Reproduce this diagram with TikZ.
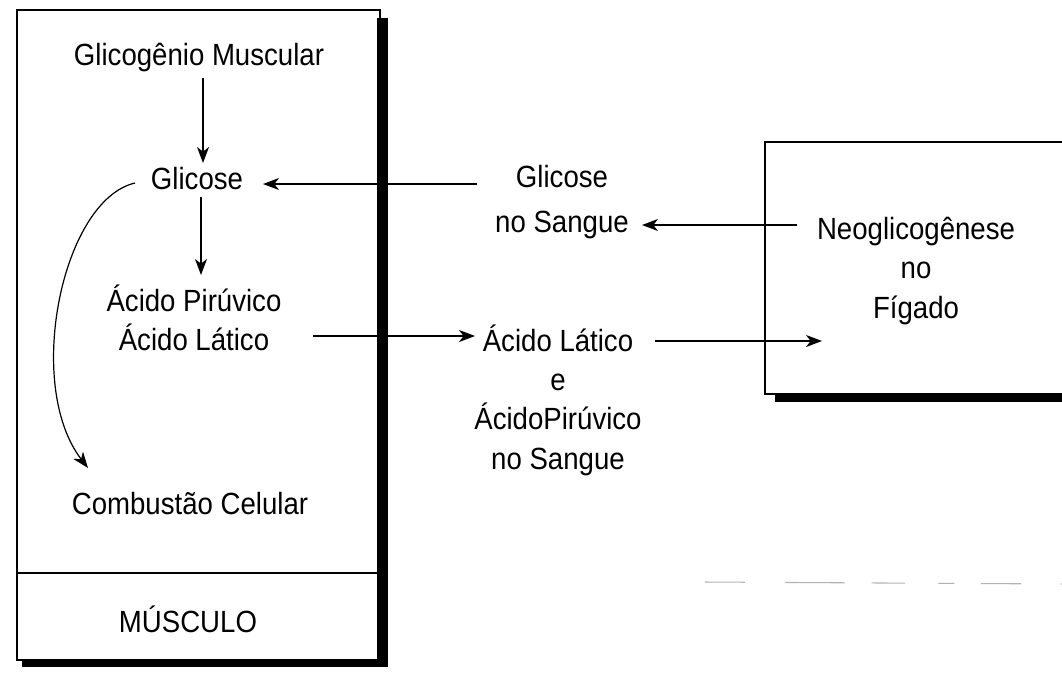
\documentclass[tikz,border=0pt]{standalone}
\usepackage{fontspec}
\setmainfont[FakeStretch=0.9]{Liberation Sans}
\usetikzlibrary{arrows.meta,calc}
\begin{document}
\begin{tikzpicture}[x=0.75pt,y=-0.75pt,
  txt/.style={font=\fontsize{23}{29.5}\selectfont, align=center, inner sep=0pt},
  arr/.style={-{Stealth[length=12pt,width=9pt,inset=3.5pt]}, line width=0.9pt},
  boxline/.style={line width=0.9pt},
  shadowfill/.style={fill=black}]
\useasboundingbox (0,0) rectangle (1062,675);
% muscle box
\draw[boxline] (17,10) -- (380,10) -- (380,660) -- (17,660) -- cycle;
\draw[boxline] (17,573) -- (380,573);
\fill[shadowfill] (377,18) rectangle (388,667);
\fill[shadowfill] (22,659) rectangle (388,667);
% liver box
\draw[boxline] (1062,142) -- (765,142) -- (765,394) -- (1062,394);
\fill[shadowfill] (775,394) rectangle (1062,402);
% texts
\node[txt] (glg) at (199,58) {Glicogênio Muscular};
\node[txt] (gli) at (197,179) {Glicose};
\node[txt] (acm) at (194,318) {Ácido Pirúvico\\Ácido Lático};
\node[txt] (comb) at (190,504) {Combustão Celular};
\node[txt] (mus) at (188,619) {MÚSCULO};
\node[txt] (gsang) at (562,202) {Glicose\\[4.5pt]no Sangue};
\node[txt] (asang) at (558,400) {Ácido Lático\\e\\ÁcidoPirúvico\\no Sangue};
\node[txt] (neo) at (916,271) {Neoglicogênese\\no\\Fígado};
% connectors
\draw[arr] ($(glg.center)+(4,20)$) -- ($(gli.center)+(6,-16)$);
\draw[arr] ($(gli.center)+(4,18)$) -- ($(acm.center)+(7,-43)$);
\draw[arr] ($(gli.center)+(-62,4)$) .. controls (62,200) and (24,385) .. ($(comb.center)+(-102,-36)$);
\draw[arr] ($(gsang.center)+(-85,-18)$) -- ($(gli.center)+(66,5)$);
\draw[arr] ($(neo.center)+(-119,-46)$) -- ($(gsang.center)+(80,23)$);
\draw[arr] ($(acm.center)+(119,18)$) -- ($(asang.center)+(-83,-64)$);
\draw[arr] ($(asang.center)+(97,-59)$) -- ($(neo.center)+(-94,70)$);
% faint dashed line
\draw[gray!60, line width=0.8pt, dash pattern=on 30pt off 30pt on 45pt off 20pt on 25pt off 25pt on 12pt off 20pt] (705,582) -- (1062,584);
\end{tikzpicture}
\end{document}
